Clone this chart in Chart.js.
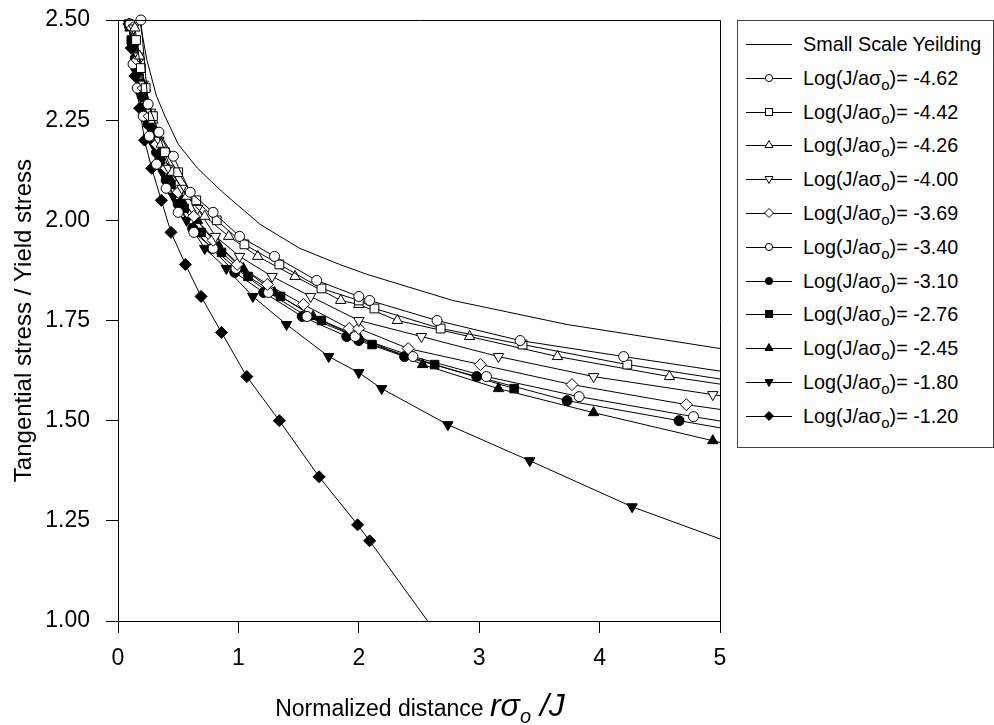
<!DOCTYPE html>
<html><head><meta charset="utf-8">
<script src="https://cdn.jsdelivr.net/npm/chart.js@4.4.1/dist/chart.umd.min.js"></script>
<style>
html,body{margin:0;padding:0;background:#fff;}
#wrap{position:relative;width:994px;height:725px;font-family:"Liberation Sans",Arial,sans-serif;color:#000;overflow:hidden;}
#c{position:absolute;left:0;top:0;}
#legend{position:absolute;left:737px;top:20px;width:257px;height:428px;border:1px solid #444;box-sizing:border-box;background:#fff;}
.row{position:absolute;left:8px;height:24px;display:flex;align-items:center;}
.row svg{display:block;}
.row span{font-size:19.8px;margin-left:11px;white-space:nowrap;line-height:24px;}
.row sub{font-size:15px;vertical-align:-5px;line-height:0;}
#xtitle{position:absolute;top:688px;left:0;width:840px;text-align:center;font-size:23px;line-height:34px;white-space:nowrap;}
#xtitle .m{font-size:32px;font-style:italic;}
#xtitle .m sub{font-size:20px;vertical-align:-7px;line-height:0;font-style:italic;}
</style></head>
<body><div id="wrap">
<canvas id="c" width="994" height="725"></canvas>
<div id="legend"></div>
<div id="xtitle">Normalized distance <span class="m">r&#963;<sub>o</sub> /J</span></div>
</div>
<script>
// ---- data (x = normalized distance, y = tangential stress / yield stress) ----
const ssyX = [0.18, 0.24, 0.32, 0.39, 0.50, 0.66, 0.87, 1.18, 1.51, 1.84, 2.07, 2.78, 3.73, 5.00];
const ssyY = [2.50, 2.40, 2.31, 2.26, 2.19, 2.13, 2.07, 1.99, 1.93, 1.89, 1.865, 1.80, 1.74, 1.68];

const s462X = [0.19, 0.25, 0.34, 0.46, 0.60, 0.79, 1.01, 1.30, 1.65, 2.00, 2.09, 2.65, 3.34, 4.20, 5.30];
const s462Y = [2.50, 2.29, 2.22, 2.16, 2.07, 2.02, 1.96, 1.91, 1.85, 1.81, 1.80, 1.75, 1.70, 1.66, 1.61];

const s442X = [0.15, 0.19, 0.23, 0.29, 0.39, 0.50, 0.65, 0.82, 1.05, 1.34, 1.69, 2.00, 2.13, 2.68, 3.36, 4.23, 5.30];
const s442Y = [2.45, 2.38, 2.33, 2.26, 2.17, 2.12, 2.05, 2.00, 1.94, 1.89, 1.83, 1.80, 1.78, 1.73, 1.69, 1.64, 1.59];

const s426X = [0.14, 0.18, 0.23, 0.29, 0.36, 0.45, 0.57, 0.72, 0.92, 1.16, 1.47, 1.85, 2.00, 2.32, 2.92, 3.65, 4.58, 5.70];
const s426Y = [2.48, 2.41, 2.33, 2.25, 2.19, 2.12, 2.06, 2.01, 1.96, 1.91, 1.86, 1.80, 1.79, 1.75, 1.71, 1.66, 1.61, 1.56];

const s400X = [0.13, 0.17, 0.21, 0.27, 0.34, 0.42, 0.53, 0.66, 0.81, 1.01, 1.28, 1.60, 2.00, 2.52, 3.16, 3.95, 4.94, 6.20];
const s400Y = [2.48, 2.41, 2.34, 2.27, 2.20, 2.13, 2.08, 2.03, 1.96, 1.91, 1.86, 1.81, 1.75, 1.71, 1.66, 1.61, 1.565, 1.51];

const s369X = [0.12, 0.16, 0.21, 0.26, 0.32, 0.40, 0.50, 0.63, 0.79, 0.99, 1.24, 1.54, 1.92, 2.00, 2.41, 3.01, 3.77, 4.72, 5.90];
const s369Y = [2.48, 2.40, 2.33, 2.26, 2.19, 2.13, 2.07, 2.01, 1.95, 1.89, 1.84, 1.79, 1.73, 1.73, 1.68, 1.64, 1.59, 1.54, 1.49];

const s340X = [0.10, 0.125, 0.16, 0.21, 0.26, 0.32, 0.40, 0.50, 0.63, 0.79, 0.98, 1.25, 1.57, 1.97, 2.45, 3.06, 3.83, 4.78, 6.00];
const s340Y = [2.49, 2.39, 2.33, 2.26, 2.21, 2.14, 2.08, 2.02, 1.97, 1.93, 1.88, 1.82, 1.76, 1.71, 1.66, 1.61, 1.56, 1.51, 1.45];

const s310X = [0.10, 0.13, 0.16, 0.20, 0.25, 0.32, 0.40, 0.50, 0.62, 0.78, 0.97, 1.21, 1.53, 1.90, 2.00, 2.38, 2.98, 3.73, 4.66, 5.80];
const s310Y = [2.49, 2.44, 2.38, 2.31, 2.24, 2.17, 2.10, 2.04, 1.98, 1.93, 1.87, 1.82, 1.76, 1.71, 1.70, 1.66, 1.61, 1.55, 1.50, 1.44];

const s276X = [0.09, 0.11, 0.14, 0.18, 0.22, 0.28, 0.35, 0.44, 0.55, 0.69, 0.86, 1.08, 1.35, 1.69, 2.11, 2.63, 3.29];
const s276Y = [2.49, 2.45, 2.40, 2.34, 2.28, 2.22, 2.15, 2.09, 2.03, 1.97, 1.92, 1.86, 1.81, 1.75, 1.69, 1.64, 1.58];

const s245X = [0.10, 0.13, 0.17, 0.21, 0.27, 0.34, 0.42, 0.53, 0.66, 0.83, 1.04, 1.30, 1.62, 2.00, 2.53, 3.16, 3.95, 4.94, 6.20];
const s245Y = [2.48, 2.43, 2.37, 2.31, 2.24, 2.17, 2.11, 2.05, 2.00, 1.94, 1.88, 1.82, 1.76, 1.71, 1.64, 1.58, 1.52, 1.45, 1.36];

const s180X = [0.09, 0.12, 0.15, 0.19, 0.23, 0.29, 0.37, 0.46, 0.57, 0.72, 0.90, 1.12, 1.40, 1.75, 2.00, 2.19, 2.74, 3.42, 4.27, 5.50];
const s180Y = [2.49, 2.43, 2.37, 2.31, 2.25, 2.19, 2.12, 2.06, 2.00, 1.93, 1.88, 1.81, 1.74, 1.66, 1.62, 1.58, 1.49, 1.40, 1.285, 1.15];

const s120X = [0.09, 0.11, 0.14, 0.18, 0.22, 0.28, 0.36, 0.44, 0.56, 0.69, 0.86, 1.07, 1.34, 1.67, 1.99, 2.09, 2.62];
const s120Y = [2.49, 2.43, 2.36, 2.28, 2.20, 2.13, 2.05, 1.97, 1.89, 1.81, 1.72, 1.61, 1.50, 1.36, 1.24, 1.20, 0.98];

const xTicks = [0, 1, 2, 3, 4, 5];
const yTicks = [1.00, 1.25, 1.50, 1.75, 2.00, 2.25, 2.50];

const ssyLabel = 'Small Scale Yeilding';
const logValues = ['-4.62', '-4.42', '-4.26', '-4.00', '-3.69', '-3.40', '-3.10', '-2.76', '-2.45', '-1.80', '-1.20'];
const seriesX = [s462X, s442X, s426X, s400X, s369X, s340X, s310X, s276X, s245X, s180X, s120X];
const seriesY = [s462Y, s442Y, s426Y, s400Y, s369Y, s340Y, s310Y, s276Y, s245Y, s180Y, s120Y];

// ---- styles ----
const markerStyles = [
  {shape:'circle', fill:'#fff', r:5},
  {shape:'rect', fill:'#fff', r:6.2},
  {shape:'triangle', fill:'#fff', r:6},
  {shape:'triangleDown', fill:'#fff', r:6},
  {shape:'rectRot', fill:'#fff', r:6},
  {shape:'circle', fill:'#fff', r:5},
  {shape:'circle', fill:'#000', r:5},
  {shape:'rect', fill:'#000', r:6},
  {shape:'triangle', fill:'#000', r:6},
  {shape:'triangleDown', fill:'#000', r:6},
  {shape:'rectRot', fill:'#000', r:6}
];

const pts = (xs, ys) => xs.map((x, i) => ({x: x, y: ys[i]}));
const clipOpt = {left: 10, top: 10, right: 0, bottom: 0};

const datasets = [];
seriesX.forEach((xs, i) => {
  const m = markerStyles[i];
  datasets.push({
    label: 'Log(J/a\u03c3o)= ' + logValues[i],
    data: pts(xs, seriesY[i]),
    showLine: true,
    borderColor: '#000',
    borderWidth: 1,
    pointStyle: m.shape === 'triangleDown' ? 'triangle' : m.shape,
    pointRotation: m.shape === 'triangleDown' ? 180 : 0,
    pointRadius: m.r,
    pointBackgroundColor: m.fill,
    pointBorderColor: '#000',
    pointBorderWidth: 1,
    clip: clipOpt
  });
});
datasets.push({
  label: ssyLabel,
  data: pts(ssyX, ssyY),
  showLine: true,
  borderColor: '#000',
  borderWidth: 1,
  pointRadius: 0,
  clip: clipOpt
});

const framePlugin = {
  id: 'frame',
  afterDraw(chart) {
    const {ctx, chartArea: a} = chart;
    ctx.save();
    ctx.strokeStyle = '#000';
    ctx.lineWidth = 1;
    ctx.beginPath();
    ctx.moveTo(a.left, Math.round(a.top) + 0.5);
    ctx.lineTo(Math.round(a.right) + 0.5, Math.round(a.top) + 0.5);
    ctx.lineTo(Math.round(a.right) + 0.5, a.bottom);
    ctx.stroke();
    ctx.restore();
  }
};

const tickFont = {family: '"Liberation Sans", Arial, sans-serif', size: 23};

new Chart(document.getElementById('c'), {
  type: 'scatter',
  data: {datasets: datasets},
  options: {
    responsive: false,
    animation: false,
    events: [],
    layout: {padding: {left: 0, top: 20, right: 274, bottom: 0}},
    plugins: {legend: {display: false}, tooltip: {enabled: false}},
    scales: {
      x: {
        type: 'linear', min: 0, max: 5,
        afterBuildTicks: s => { s.ticks = xTicks.map(v => ({value: v})); },
        afterFit: s => { s.height = 104; s.paddingLeft = 0; s.paddingRight = 0; },
        grid: {display: true, drawOnChartArea: false, drawTicks: true, tickLength: 12, color: '#000', lineWidth: 1},
        border: {display: true, color: '#000', width: 1},
        ticks: {color: '#000', font: tickFont, padding: 12, maxRotation: 0, callback: v => String(v)}
      },
      y: {
        type: 'linear', min: 1, max: 2.5,
        afterBuildTicks: s => { s.ticks = yTicks.map(v => ({value: v})); },
        afterFit: s => { s.width = 118; s.paddingTop = 0; s.paddingBottom = 0; },
        grid: {display: true, drawOnChartArea: false, drawTicks: true, tickLength: 12, color: '#000', lineWidth: 1},
        border: {display: true, color: '#000', width: 1},
        ticks: {color: '#000', font: tickFont, padding: 16, callback: v => Number(v).toFixed(2)},
        title: {display: true, text: 'Tangential stress / Yield stress', color: '#000',
                font: {family: '"Liberation Sans", Arial, sans-serif', size: 24}, padding: {top: 10, bottom: 0}}
      }
    }
  },
  plugins: [framePlugin]
});

// ---- HTML legend (for subscripts) ----
function markerSvg(m) {
  const w = 46, h = 16, cx = 23, cy = 8;
  let shape = '';
  const st = 'fill="' + m.fill + '" stroke="#000" stroke-width="1"';
  if (m.shape === 'circle') shape = '<circle cx="' + cx + '" cy="' + cy + '" r="3.6" ' + st + '/>';
  else if (m.shape === 'rect') shape = '<rect x="' + (cx - 3.5) + '" y="' + (cy - 3.5) + '" width="7" height="7" ' + st + '/>';
  else if (m.shape === 'triangle') shape = '<polygon points="' + cx + ',' + (cy - 4.5) + ' ' + (cx + 4) + ',' + (cy + 2.5) + ' ' + (cx - 4) + ',' + (cy + 2.5) + '" ' + st + '/>';
  else if (m.shape === 'triangleDown') shape = '<polygon points="' + cx + ',' + (cy + 4.5) + ' ' + (cx + 4) + ',' + (cy - 2.5) + ' ' + (cx - 4) + ',' + (cy - 2.5) + '" ' + st + '/>';
  else if (m.shape === 'rectRot') shape = '<polygon points="' + cx + ',' + (cy - 4.5) + ' ' + (cx + 4.5) + ',' + cy + ' ' + cx + ',' + (cy + 4.5) + ' ' + (cx - 4.5) + ',' + cy + '" ' + st + '/>';
  return '<svg width="' + w + '" height="' + h + '"><line x1="0" y1="' + (cy + 0.5) + '" x2="' + w + '" y2="' + (cy + 0.5) + '" stroke="#000" stroke-width="1"/>' + shape + '</svg>';
}
const legend = document.getElementById('legend');
const rowStep = 33.8, rowStart = 23 - 12;
let html = '<div class="row" style="top:' + rowStart + 'px">' +
  '<svg width="46" height="16"><line x1="0" y1="8.5" x2="46" y2="8.5" stroke="#000" stroke-width="1"/></svg>' +
  '<span>' + ssyLabel + '</span></div>';
logValues.forEach((v, i) => {
  html += '<div class="row" style="top:' + (rowStart + rowStep * (i + 1)) + 'px">' + markerSvg(markerStyles[i]) +
    '<span>Log(J/a\u03c3<sub>o</sub>)= ' + v + '</span></div>';
});
legend.innerHTML = html;
</script>
</body></html>
